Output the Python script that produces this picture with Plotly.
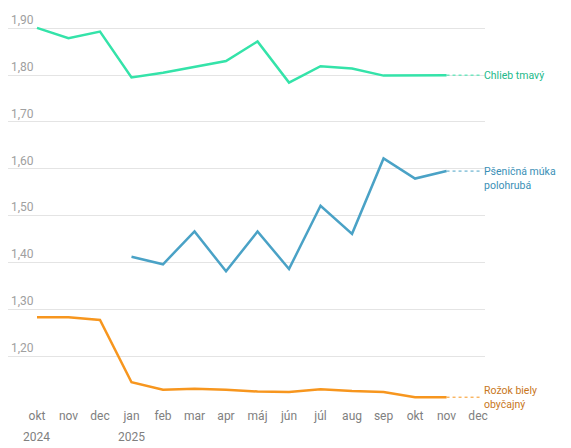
import plotly.graph_objects as go

months = ["okt", "nov", "dec", "jan", "feb", "mar", "apr", "máj",
          "jún", "júl", "aug", "sep", "okt", "nov", "dec"]
years = ["2024", "2025"]
year_pos = [0, 3]

chlieb = [1.901, 1.879, 1.893, 1.795, 1.805, 1.817, 1.830, 1.872, 1.784, 1.819,
          1.814, 1.799, 1.800, 1.800]
muka = [None, None, None, 1.412, 1.396, 1.466, 1.381, 1.466, 1.386, 1.521,
        1.461, 1.622, 1.579, 1.595]
rozok = [1.283, 1.283, 1.277, 1.144, 1.128, 1.130, 1.128, 1.124, 1.123, 1.129,
         1.125, 1.123, 1.112, 1.112]

names = ["Chlieb tmavý", "Pšeničná múka<br>polohrubá", "Rožok biely<br>obyčajný"]
series = [chlieb, muka, rozok]
line_colors = ["#34e3a9", "#4aa2c6", "#f7961e"]
text_colors = ["#22b98a", "#3a8fb6", "#c8761b"]
label_anchor = ["middle", "top", "middle"]
label_shift = [0, 8, 0]

y_ticks = [1.2, 1.3, 1.4, 1.5, 1.6, 1.7, 1.8, 1.9]

FONT = "Roboto, sans-serif"

fig = go.Figure()
xs = list(range(len(chlieb)))
for s, lc in zip(series, line_colors):
    fig.add_trace(go.Scatter(x=xs, y=s, mode="lines",
                             line=dict(color=lc, width=2.5), connectgaps=False,
                             hoverinfo="skip", showlegend=False))
    last = s[-1]
    fig.add_trace(go.Scatter(x=[xs[-1], xs[-1] + 1.1], y=[last, last], mode="lines",
                             line=dict(color=lc, width=1, dash="dot"),
                             hoverinfo="skip", showlegend=False))

for s, name, tc, ya, ys in zip(series, names, text_colors, label_anchor, label_shift):
    fig.add_annotation(x=xs[-1] + 1.14, y=s[-1], text=name, showarrow=False,
                       xref="x", yref="y", xanchor="left", yanchor=ya, yshift=ys,
                       align="left", font=dict(family=FONT, size=10.5, color=tc))

for yr, p in zip(years, year_pos):
    fig.add_annotation(x=p, y=-0.0944, text=yr, showarrow=False, xref="x",
                       yref="paper", xanchor="center", yanchor="middle",
                       font=dict(family=FONT, size=12, color="#808080"))

fig.update_layout(
    width=555, height=440,
    margin=dict(l=0, r=78, t=0, b=48),
    paper_bgcolor="white", plot_bgcolor="white",
    separators=", ",
    font=dict(family=FONT, size=12, color="#888888"),
    showlegend=False,
)
fig.update_xaxes(range=[-0.92, 14.22], tickvals=list(range(len(months))),
                 ticktext=months, showgrid=False, zeroline=False, showline=False,
                 ticks="", ticklabelstandoff=7,
                 tickfont=dict(family=FONT, size=12, color="#808080"))
fig.update_yaxes(range=[1.106, 1.9434], tickvals=y_ticks, tickformat=".2f",
                 ticklabelposition="inside top", showgrid=True, gridcolor="#e4e4e4",
                 gridwidth=1, zeroline=False, showline=False, ticks="",
                 tickfont=dict(family=FONT, size=12, color="#a0a0a0"))

fig.write_html("out.html")
